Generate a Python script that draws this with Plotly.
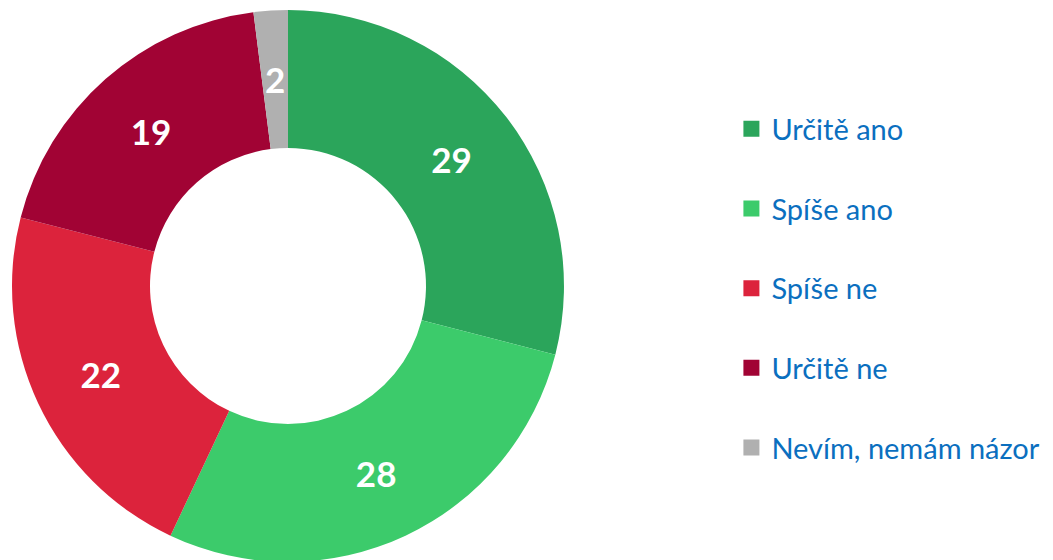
import math
import plotly.graph_objects as go

categories = ["Určitě ano", "Spíše ano", "Spíše ne", "Určitě ne", "Nevím, nemám názor"]
values = [29, 28, 22, 19, 2]
colors = ["#2BA55B", "#3CCB6B", "#DC233C", "#A10334", "#B0B0B0"]

W, H = 1053, 560
dom_x = [0.0038, 0.528]
dom_y = [0.0107, 0.9964]
hole = 0.5
small = 5  # slices below this value get their label placed mid-ring

templates = ["<b>%{value}</b>" if v >= small else " " for v in values]

fig = go.Figure()
fig.add_trace(go.Pie(
    labels=categories, values=values, sort=False, direction="clockwise",
    hole=hole, marker=dict(colors=colors, line=dict(width=0)),
    texttemplate=templates, textposition="inside",
    insidetextorientation="horizontal",
    textfont=dict(family="Lato", size=35, color="white"),
    domain=dict(x=dom_x, y=dom_y),
    showlegend=False, hoverinfo="label+value",
))

total = sum(values)
cx = (dom_x[0] + dom_x[1]) / 2
cy = (dom_y[0] + dom_y[1]) / 2
R = min((dom_x[1] - dom_x[0]) * W, (dom_y[1] - dom_y[0]) * H) / 2
rmid = R * (1 + hole) / 2
cum = 0
for v in values:
    if v < small:
        ang = 2 * math.pi * (cum + v / 2) / total
        fig.add_annotation(
            x=cx + rmid * math.sin(ang) / W, y=cy + rmid * math.cos(ang) / H,
            xref="paper", yref="paper", xanchor="center", yanchor="middle",
            text=f"<b>{v}</b>", showarrow=False,
            font=dict(family="Lato", size=35, color="white"),
        )
    cum += v

for c, col in zip(categories, colors):
    fig.add_trace(go.Scatter(
        x=[None], y=[None], mode="markers", name=c, legendgroup=c,
        marker=dict(symbol="square", size=19, color=col),
    ))

fig.update_layout(
    width=W, height=H, margin=dict(l=0, r=0, t=0, b=0),
    paper_bgcolor="white", plot_bgcolor="white",
    xaxis=dict(visible=False), yaxis=dict(visible=False),
    legend=dict(x=0.687, y=0.8296, xanchor="left", yanchor="top",
                font=dict(family="Lato", size=29, color="#0B6FBF"),
                tracegroupgap=39, itemsizing="trace", bgcolor="rgba(0,0,0,0)"),
)
fig.write_html("out.html")
